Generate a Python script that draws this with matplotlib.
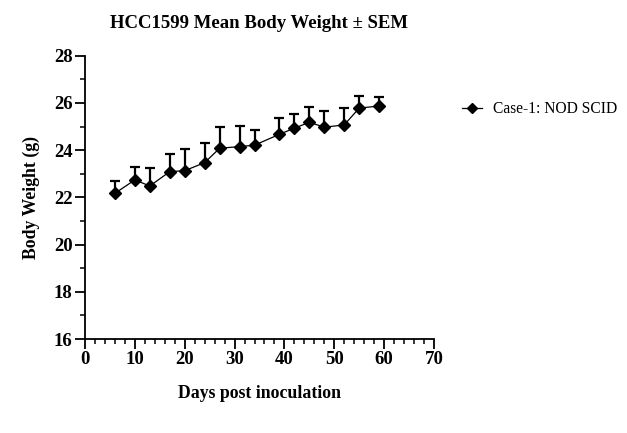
import matplotlib
matplotlib.use("Agg")
import matplotlib.pyplot as plt
from matplotlib.ticker import MultipleLocator

days = [6, 10, 13, 17, 20, 24, 27, 31, 34, 39, 42, 45, 48, 52, 55, 59]
mean_bw = [22.17, 22.74, 22.48, 23.09, 23.13, 23.47, 24.08, 24.15, 24.21, 24.67,
           24.93, 25.18, 24.97, 25.07, 25.78, 25.87]
sem_bw = [0.54, 0.56, 0.75, 0.74, 0.91, 0.82, 0.91, 0.89, 0.66, 0.69,
          0.62, 0.64, 0.70, 0.70, 0.50, 0.40]
series_label = "Case-1: NOD SCID"
title = "HCC1599 Mean Body Weight \u00b1 SEM"
xlabel = "Days post inoculation"
ylabel = "Body Weight (g)"

plt.rcParams['font.family'] = ['Liberation Serif', 'DejaVu Serif']

fig = plt.figure(figsize=(6.27, 4.33), dpi=100)
ax = fig.add_axes([85/627, (433-339)/433, (434-85)/627, (339-55.7)/433])

ax.errorbar(days, mean_bw, yerr=[[0]*len(sem_bw), sem_bw], fmt='none',
            ecolor='black', elinewidth=1.6, capsize=3.5, capthick=1.6, zorder=2)
ax.plot(days, mean_bw, color='black', lw=0.9, marker='D', markersize=6.3,
        markerfacecolor='black', markeredgecolor='black', label=series_label, zorder=3)

ax.set_xlim(0, 70)
ax.set_ylim(16, 28)
ax.xaxis.set_major_locator(MultipleLocator(10))
ax.xaxis.set_minor_locator(MultipleLocator(2))
ax.yaxis.set_major_locator(MultipleLocator(2))
ax.yaxis.set_minor_locator(MultipleLocator(1))
for s in ['top', 'right']:
    ax.spines[s].set_visible(False)
for s in ['left', 'bottom']:
    ax.spines[s].set_linewidth(1.3)
ax.tick_params(which='major', length=7, width=1.3, labelsize=13.5, pad=2)
ax.tick_params(which='minor', length=3.5, width=1.1)
for lab in ax.get_xticklabels() + ax.get_yticklabels():
    lab.set_fontweight('bold')

ax.set_title(title, fontsize=13.5, fontweight='bold', pad=20)
ax.set_xlabel(xlabel, fontsize=12.8, fontweight='bold', labelpad=12)
ax.set_ylabel(ylabel, fontsize=12.8, fontweight='bold', labelpad=10)

leg = fig.legend(loc='upper left', bbox_to_anchor=(456/627, 1-95/433), frameon=False,
                 fontsize=11.2, handlelength=1.3, handletextpad=0.7, borderaxespad=0,
                 markerscale=0.75)

fig.savefig("out.png", dpi=100)
